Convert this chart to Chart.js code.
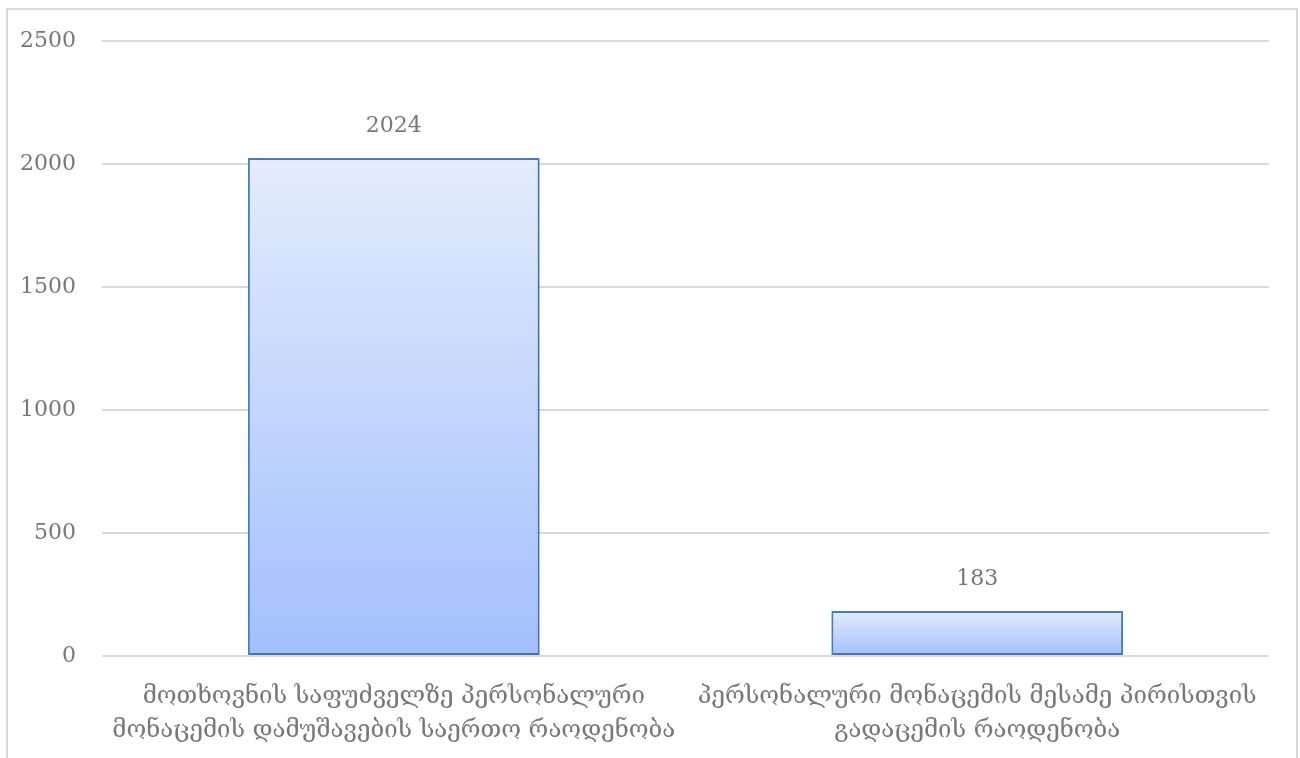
<!DOCTYPE html>
<html>
<head>
<meta charset="utf-8">
<script src="https://cdn.jsdelivr.net/npm/chart.js@4.4.0/dist/chart.umd.min.js"></script>
<style>
  html, body { margin: 0; padding: 0; background: #fff; overflow: hidden; }
  #frame { position: absolute; left: 6px; top: 8px; width: 1288px; height: 760px; border: 2px solid #d9d9d9; }
  #chart { position: absolute; left: 0; top: 0; }
</style>
</head>
<body>
<div id="frame"><canvas id="chart" width="1288" height="748"></canvas></div>
<script>
const categories = [
    ["მოთხოვნის საფუძველზე პერსონალური", "მონაცემის დამუშავების საერთო რაოდენობა"],
    ["პერსონალური მონაცემის მესამე პირისთვის", "გადაცემის რაოდენობა"]
];
const counts = [2024, 183];
const yTicks = [0, 500, 1000, 1500, 2000, 2500];

const serif = "'DejaVu Serif', 'Liberation Serif', serif";
const grey = '#787878';

// gradient per bar, light at top, darker blue at the base
function barFill(ctx) {
    const chart = ctx.chart;
    const y = chart.scales.y;
    if (!chart.chartArea || !y || ctx.raw == null) return '#c0d4fd';
    const top = y.getPixelForValue(ctx.raw);
    const base = y.getPixelForValue(0);
    if (!isFinite(top) || !isFinite(base) || top === base) return '#c0d4fd';
    const g = chart.ctx.createLinearGradient(0, top, 0, base);
    g.addColorStop(0, '#e4ecfc');
    g.addColorStop(1, '#a2c0fe');
    return g;
}

const valueLabels = {
    id: 'valueLabels',
    afterDatasetsDraw(chart) {
        const ctx = chart.ctx;
        const meta = chart.getDatasetMeta(0);
        ctx.save();
        ctx.font = '22px ' + serif;
        ctx.fillStyle = grey;
        ctx.textAlign = 'center';
        ctx.textBaseline = 'middle';
        meta.data.forEach((bar, i) => {
            ctx.fillText(String(counts[i]), bar.x, bar.y - 32);
        });
        ctx.restore();
    }
};

const barShadow = {
    id: 'barShadow',
    beforeDatasetDraw(chart) {
        const ctx = chart.ctx;
        ctx.save();
        ctx.shadowColor = 'rgba(0,0,0,0.18)';
        ctx.shadowBlur = 3;
        ctx.shadowOffsetX = 1;
        ctx.shadowOffsetY = 1;
    },
    afterDatasetDraw(chart) {
        chart.ctx.restore();
    }
};

new Chart(document.getElementById('chart').getContext('2d'), {
    type: 'bar',
    data: {
        labels: categories,
        datasets: [{
            data: counts,
            backgroundColor: barFill,
            borderColor: '#4a7dbd',
            borderWidth: 2,
            borderSkipped: false,
            barPercentage: 1,
            categoryPercentage: 0.5
        }]
    },
    options: {
        responsive: false,
        animation: false,
        layout: { padding: { top: 31, right: 27, left: 0, bottom: 0 } },
        plugins: {
            legend: { display: false },
            tooltip: { enabled: false }
        },
        scales: {
            x: {
                grid: { display: false },
                border: { display: false },
                ticks: {
                    color: grey,
                    font: { family: serif, size: 24, lineHeight: 1.45 },
                    padding: 15,
                    maxRotation: 0,
                    autoSkip: false
                },
                afterFit(scale) {
                    scale.height = 102;
                    scale.paddingLeft = 0;
                    scale.paddingRight = 0;
                }
            },
            y: {
                min: 0,
                max: 2500,
                afterBuildTicks(scale) { scale.ticks = yTicks.map(v => ({ value: v })); },
                grid: { color: '#d9d9d9', lineWidth: 2, drawTicks: false },
                border: { display: false },
                ticks: {
                    color: grey,
                    font: { family: serif, size: 22 },
                    padding: 26,
                    callback: v => String(v)
                },
                afterFit(scale) {
                    scale.width = 94;
                    scale.paddingTop = 0;
                    scale.paddingBottom = 0;
                }
            }
        }
    },
    plugins: [barShadow, valueLabels]
});
</script>
</body>
</html>
